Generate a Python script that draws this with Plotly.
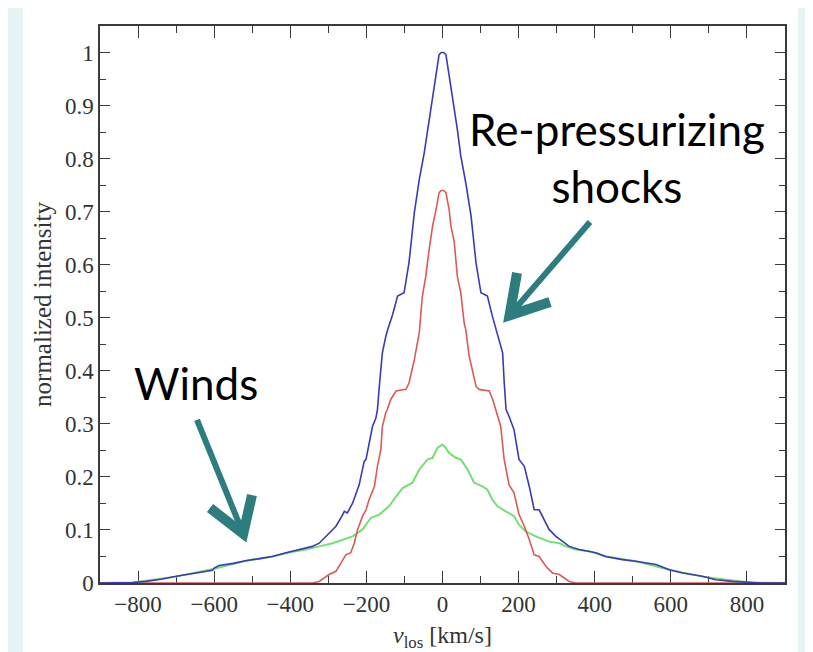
import plotly.graph_objects as go

# ---------------- data ----------------
blue_x = [-900, -860, -830, -815, -779, -740, -700, -650, -604, -600, -587, -550, -517, -480,
          -447, -411, -377, -342, -324, -306, -298, -280, -265, -258, -250, -236, -219, -214,
          -206, -201, -193, -184, -175, -171, -166, -162, -158, -149, -144, -131, -118, -101,
          -88, -74, -61, -48, -39, -26, -9, -3, 3, 9, 26, 39, 48, 61, 75, 88, 101, 118, 131,
          145, 158, 162, 167, 175, 188, 201, 215, 228, 241, 254, 267, 280, 298, 320, 333, 359,
          385, 403, 429, 473, 508, 561, 596, 631, 683, 718, 762, 806, 840, 900]
blue_y = [0, 0, 0, 0.001, 0.003, 0.007, 0.0126, 0.018, 0.024, 0.028, 0.033, 0.037, 0.042, 0.046,
          0.050, 0.057, 0.063, 0.069, 0.075, 0.088, 0.094, 0.107, 0.125, 0.135, 0.132, 0.151, 0.185, 0.201,
          0.229, 0.233, 0.264, 0.295, 0.311, 0.327, 0.371, 0.409, 0.434, 0.465, 0.478, 0.506, 0.541, 0.547,
          0.604, 0.698, 0.761, 0.811, 0.855, 0.918, 0.996, 1.0, 1.0, 0.996, 0.918, 0.855, 0.805, 0.755, 0.692,
          0.604, 0.547, 0.541, 0.503, 0.465, 0.434, 0.380, 0.327, 0.314, 0.289, 0.233, 0.220, 0.182, 0.138,
          0.138, 0.119, 0.101, 0.088, 0.075, 0.069, 0.063, 0.060, 0.057, 0.050, 0.044, 0.041, 0.035, 0.025,
          0.019, 0.0126, 0.006, 0.003, 0.001, 0, 0]

red_x = [-900, -342, -324, -298, -280, -267, -254, -241, -232, -223, -210, -201, -193, -179, -171,
         -162, -158, -149, -145, -136, -131, -122, -96, -88, -74, -61, -53, -44, -35, -26, -17, -9,
         -3, 3, 9, 17.5, 22, 31, 39, 48, 57, 61, 70, 79, 88, 96, 123, 132, 140, 153, 162, 175, 188,
         201, 215, 228, 241, 254, 272, 289, 307, 320, 333, 350, 900]
red_y = [0, 0, 0.003, 0.016, 0.022, 0.038, 0.053, 0.057, 0.075, 0.101, 0.126, 0.138, 0.157, 0.182, 0.220,
         0.252, 0.295, 0.321, 0.327, 0.346, 0.352, 0.362, 0.365, 0.377, 0.421, 0.472, 0.540, 0.578, 0.629,
         0.673, 0.704, 0.736, 0.740, 0.740, 0.736, 0.704, 0.673, 0.642, 0.578, 0.547, 0.490, 0.478, 0.428,
         0.396, 0.371, 0.365, 0.362, 0.346, 0.327, 0.295, 0.233, 0.185, 0.170, 0.129, 0.107, 0.082, 0.053,
         0.050, 0.031, 0.019, 0.016, 0.009, 0.003, 0, 0]

green_x = [-900, -815, -700, -600, -517, -447, -400, -359, -324, -289, -260, -236, -210, -188, -166,
           -140, -122, -105, -79, -61, -39, -26, -13, 0, 8, 17.5, 35, 48, 66, 83, 105, 118, 131, 144,
           166, 188, 201, 219, 245, 280, 307, 324, 350, 385, 429, 508, 596, 683, 806, 900]
green_y = [0, 0.001, 0.012, 0.027, 0.042, 0.050, 0.058, 0.063, 0.069, 0.075, 0.082, 0.088, 0.101, 0.123,
           0.129, 0.145, 0.163, 0.179, 0.189, 0.214, 0.233, 0.236, 0.255, 0.261, 0.255, 0.245, 0.236, 0.233,
           0.214, 0.189, 0.182, 0.176, 0.157, 0.145, 0.135, 0.126, 0.110, 0.097, 0.088, 0.078, 0.075, 0.069,
           0.063, 0.060, 0.050, 0.041, 0.025, 0.012, 0.001, 0]

x_range = [-900, 900]
y_range = [0, 1.05]

# annotation arrows (tail -> chevron vertex, chevron arms), in data units
shock_arrow = dict(tail=(387.6, 0.6805), vertex=(176.1, 0.5045), arm1=(195.8, 0.5844), arm2=(282.5, 0.5297))
wind_arrow = dict(tail=(-645.1, 0.3073), vertex=(-523.7, 0.0929), arm1=(-610.9, 0.1414), arm2=(-500.6, 0.1659))

# ---------------- figure ----------------
serif = "Liberation Serif, Times New Roman, serif"
teal = "#2d7d7e"
axis_color = "#3a3a3a"

fig = go.Figure()
fig.add_trace(go.Scatter(x=green_x, y=green_y, mode="lines",
                         line=dict(color="#72e072", width=2), showlegend=False, hoverinfo="skip"))
fig.add_trace(go.Scatter(x=red_x, y=red_y, mode="lines",
                         line=dict(color="#dd5858", width=1.6), showlegend=False, hoverinfo="skip"))
fig.add_trace(go.Scatter(x=blue_x, y=blue_y, mode="lines",
                         line=dict(color="#3a3ab8", width=1.6), showlegend=False, hoverinfo="skip"))

shapes = [
    # white panel behind the chart
    dict(type="rect", xref="paper", yref="paper", x0=-0.1124, x1=1.019, y0=-0.2, y1=1.1,
         fillcolor="white", line=dict(width=0), layer="below"),
]
for arr in (shock_arrow, wind_arrow):
    (tx, ty), (vx, vy) = arr["tail"], arr["vertex"]
    (a1x, a1y), (a2x, a2y) = arr["arm1"], arr["arm2"]
    shapes.append(dict(type="path", xref="x", yref="y",
                       path=f"M {tx},{ty} L {vx},{vy}", line=dict(color=teal, width=6)))
    shapes.append(dict(type="path", xref="x", yref="y",
                       path=f"M {a1x},{a1y} L {vx},{vy} L {a2x},{a2y}", line=dict(color=teal, width=10)))

annotations = [
    dict(x=458.5, y=0.803, xref="x", yref="y", text="Re-pressurizing<br>shocks", showarrow=False,
         font=dict(family="Lato, Open Sans, sans-serif", size=44, color="black"), align="center"),
    dict(x=-647.7, y=0.377, xref="x", yref="y", text="Winds", showarrow=False,
         font=dict(family="Lato, Open Sans, sans-serif", size=44, color="black"), align="center"),
]

axis_common = dict(showline=True, linecolor=axis_color, linewidth=1.5, mirror="ticks",
                   ticks="inside", tickcolor=axis_color, tickwidth=1.2, showgrid=False,
                   zeroline=False, layer="below traces", automargin=False,
                   tickfont=dict(family=serif, size=23, color="#333333"))

fig.update_layout(
    width=805, height=644,
    margin=dict(l=92, r=28, t=18, b=69),
    paper_bgcolor="#e6f4f6", plot_bgcolor="white",
    shapes=shapes, annotations=annotations,
    xaxis=dict(range=x_range, tick0=0, dtick=200, ticklen=12,
               minor=dict(dtick=100, ticks="inside", ticklen=7, tickcolor=axis_color, tickwidth=1.2),
               title=dict(text="<i>v</i><sub>los</sub> [km/s]", font=dict(family=serif, size=24, color="#333333"),
                          standoff=12),
               **axis_common),
    yaxis=dict(range=y_range, tick0=0, dtick=0.1, ticklen=10,
               minor=dict(dtick=0.05, ticks="inside", ticklen=6, tickcolor=axis_color, tickwidth=1.2),
               title=dict(text="normalized intensity", font=dict(family=serif, size=25, color="#333333"),
                          standoff=6),
               **axis_common),
)

fig.write_html("out.html")
